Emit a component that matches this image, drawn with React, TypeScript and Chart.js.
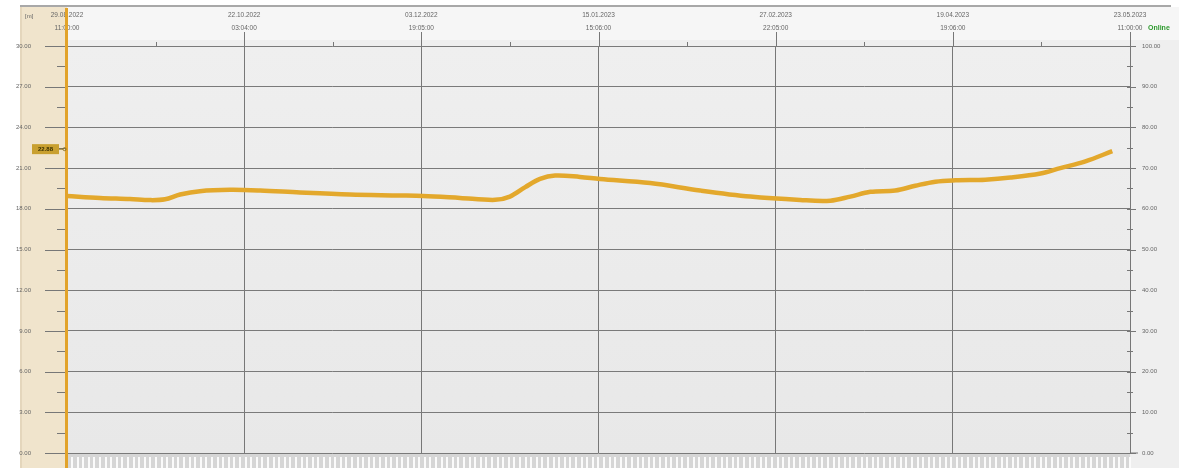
import React, { useEffect, useRef } from "react";
import { Chart, registerables } from "chart.js";

Chart.register(...registerables);

const xTickDates = ["29.08.2022", "22.10.2022", "03.12.2022", "15.01.2023", "27.02.2023", "19.04.2023", "23.05.2023"];
const xTickTimes = ["11:00:00", "03:04:00", "19:05:00", "15:06:00", "22:05:00", "19:06:00", "11:00:00"];
const sampleX = [0, 11.2, 21.3, 28.1, 33.2, 38.3, 45, 55.2, 65.4, 78.9, 95.8, 112.8, 120.6, 133.1, 145, 150, 155.2, 160.2, 165.3, 173.7, 180.5, 197.5, 214.4, 231.4, 248.3, 258.5, 265.3, 272.1, 280.5, 287.3, 294.1, 300.9, 311, 319.5, 329.7, 336.4, 344.9, 354];
const levelM = [18.94, 18.8, 18.72, 18.64, 18.7, 19.05, 19.3, 19.4, 19.35, 19.2, 19.05, 18.98, 18.94, 18.8, 18.66, 18.9, 19.6, 20.2, 20.45, 20.35, 20.2, 19.9, 19.35, 18.9, 18.65, 18.6, 18.9, 19.25, 19.35, 19.7, 20.0, 20.1, 20.15, 20.3, 20.6, 21.0, 21.5, 22.25];
const currentValueLabel = "22.88";
const onlineLabel = "Online";
const unitLabel = "[m]";

const FONT = "'Liberation Sans', Arial, sans-serif";

const decorPlugin = {
  id: "decor",
  beforeDraw(chart: any) {
    const { ctx, chartArea: a, width, height } = chart;
    ctx.save();
    ctx.fillStyle = "#ffffff";
    ctx.fillRect(0, 0, width, height);
    ctx.fillStyle = "#f6f6f6";
    ctx.fillRect(a.left, 7, width - a.left, a.top - 7);
    ctx.fillStyle = "#a8a8a8";
    ctx.fillRect(20, 5, width - 28, 2);
    ctx.fillStyle = "#f0e4cc";
    ctx.fillRect(20, 7, a.left - 20, height - 7);
    ctx.fillStyle = "#e4d6bc";
    ctx.fillRect(20, 7, 2, height - 7);
    const pg = ctx.createLinearGradient(0, a.top, 0, a.bottom);
    pg.addColorStop(0, "#efefef");
    pg.addColorStop(1, "#e8e8e8");
    ctx.fillStyle = pg;
    ctx.fillRect(a.left, a.top - 6, a.right - a.left, a.bottom - a.top + 6);
    ctx.fillStyle = "#efefef";
    ctx.fillRect(a.right, a.top - 6, width - a.right, height - a.top + 6);
    ctx.fillStyle = "#d6d6d6";
    ctx.fillRect(a.left, a.bottom + 1, a.right - a.left, height - a.bottom);
    ctx.fillStyle = "#fbfbfb";
    for (let x = a.left + 4; x < a.right; x += 5.6) {
      ctx.fillRect(Math.round(x), a.bottom + 4, 2, height - a.bottom - 4);
    }
    ctx.restore();
  },
  afterDraw(chart: any) {
    const { ctx, chartArea: a, scales } = chart;
    const y = scales.y;
    const x = scales.x;
    ctx.save();
    ctx.strokeStyle = "#777777";
    ctx.lineWidth = 1;
    for (let v = 0; v <= 30; v += 1.5) {
      const py = Math.round(y.getPixelForValue(v)) + 0.5;
      const major = Math.abs(v % 3) < 1e-6;
      ctx.beginPath();
      ctx.moveTo(a.left - (major ? 22 : 10), py);
      ctx.lineTo(a.left, py);
      ctx.stroke();
    }
    ctx.beginPath();
    ctx.moveTo(a.right + 0.5, a.top - 6);
    ctx.lineTo(a.right + 0.5, a.bottom);
    ctx.lineTo(a.right + 8, a.bottom);
    ctx.stroke();
    for (let v = 0; v <= 30; v += 1.5) {
      const py = Math.round(y.getPixelForValue(v)) + 0.5;
      const major = Math.abs(v % 3) < 1e-6;
      ctx.beginPath();
      ctx.moveTo(a.right - 3, py);
      ctx.lineTo(a.right + (major ? 6 : 3), py);
      ctx.stroke();
    }
    for (let v = 30; v < 360; v += 60) {
      const px = Math.round(x.getPixelForValue(v)) + 0.5;
      ctx.beginPath();
      ctx.moveTo(px, a.top - 4);
      ctx.lineTo(px, a.top);
      ctx.stroke();
    }
    for (let v = 60; v <= 360; v += 60) {
      const px = Math.round(x.getPixelForValue(v)) + 0.5;
      ctx.beginPath();
      ctx.moveTo(px, a.top - 14);
      ctx.lineTo(px, a.top);
      ctx.stroke();
    }
    ctx.fillStyle = "#e2a32a";
    ctx.fillRect(a.left - 2, 8, 3, chart.height - 8);
    ctx.fillStyle = "#666666";
    ctx.font = `6px ${FONT}`;
    ctx.textAlign = "left";
    ctx.textBaseline = "middle";
    ctx.fillText(unitLabel, 25, 16);
    const lastVal = levelM[levelM.length - 1];
    const by = y.getPixelForValue(lastVal) - 2;
    ctx.fillStyle = "#c9a030";
    ctx.fillRect(32, by - 5, 27, 10);
    ctx.fillStyle = "#3a3000";
    ctx.font = `bold 6px ${FONT}`;
    ctx.textAlign = "center";
    ctx.fillText(currentValueLabel, 45.5, by);
    ctx.strokeStyle = "#8a7020";
    ctx.beginPath();
    ctx.moveTo(59, by);
    ctx.lineTo(63, by);
    ctx.stroke();
    ctx.beginPath();
    ctx.arc(64.5, by, 1.5, 0, Math.PI * 2);
    ctx.stroke();
    ctx.fillStyle = "#2e9a2e";
    ctx.font = `bold 7px ${FONT}`;
    ctx.textAlign = "left";
    ctx.fillText(onlineLabel, a.right + 18, 28);
    ctx.restore();
  },
};

export default function App() {
  const ref = useRef<HTMLCanvasElement>(null);
  useEffect(() => {
    document.body.style.margin = "0";
    const data = sampleX.map((xv, i) => ({ x: xv, y: levelM[i] }));
    const chart = new Chart(ref.current!, {
      type: "line",
      data: {
        datasets: [
          {
            data,
            borderColor: "#e3a82c",
            borderWidth: 4.5,
            pointRadius: 0,
            tension: 0.35,
            yAxisID: "y",
          },
        ],
      },
      options: {
        animation: false,
        responsive: false,
        maintainAspectRatio: false,
        layout: { padding: { left: 0, right: 0, top: 0, bottom: 15 } },
        plugins: { legend: { display: false }, tooltip: { enabled: false } },
        scales: {
          x: {
            type: "linear",
            position: "top",
            min: 0,
            max: 360,
            afterFit(s: any) { s.height = 46; s.paddingLeft = 0; s.paddingRight = 0; },
            afterBuildTicks(s: any) {
              s.ticks = [0, 60, 120, 180, 240, 300, 360].map((v) => ({ value: v }));
            },
            ticks: {
              autoSkip: false,
              maxRotation: 0,
              padding: 11.5,
              color: "#666666",
              font: { size: 6.5, family: FONT, lineHeight: 2.0 },
              callback: (v: any) => {
                const i = Math.round(Number(v) / 60);
                return [xTickDates[i], xTickTimes[i]];
              },
            },
            grid: { color: "#777777", lineWidth: 1, drawTicks: false },
            border: { display: false },
          },
          y: {
            position: "left",
            min: 0,
            max: 30,
            afterFit(s: any) { s.width = 67; s.paddingTop = 0; s.paddingBottom = 0; },
            afterBuildTicks(s: any) {
              const t = [];
              for (let v = 0; v <= 30; v += 3) t.push({ value: v });
              s.ticks = t;
            },
            ticks: {
              padding: 36,
              color: "#666666",
              font: { size: 6, family: FONT },
              callback: (v: any) => Number(v).toFixed(2),
            },
            grid: { color: "#7a7a7a", lineWidth: 1, drawTicks: false },
            border: { display: false },
          },
          y2: {
            position: "right",
            min: 0,
            max: 100,
            afterFit(s: any) { s.width = 49; s.paddingTop = 0; s.paddingBottom = 0; },
            afterBuildTicks(s: any) {
              const t = [];
              for (let v = 0; v <= 100; v += 10) t.push({ value: v });
              s.ticks = t;
            },
            ticks: {
              padding: 12,
              color: "#666666",
              font: { size: 6, family: FONT },
              callback: (v: any) => Number(v).toFixed(2),
            },
            grid: { display: false, drawTicks: false },
            border: { display: false },
          },
        },
      },
      plugins: [decorPlugin],
    });
    return () => chart.destroy();
  }, []);
  return <canvas ref={ref} width={1179} height={468} style={{ display: "block" }} />;
}
